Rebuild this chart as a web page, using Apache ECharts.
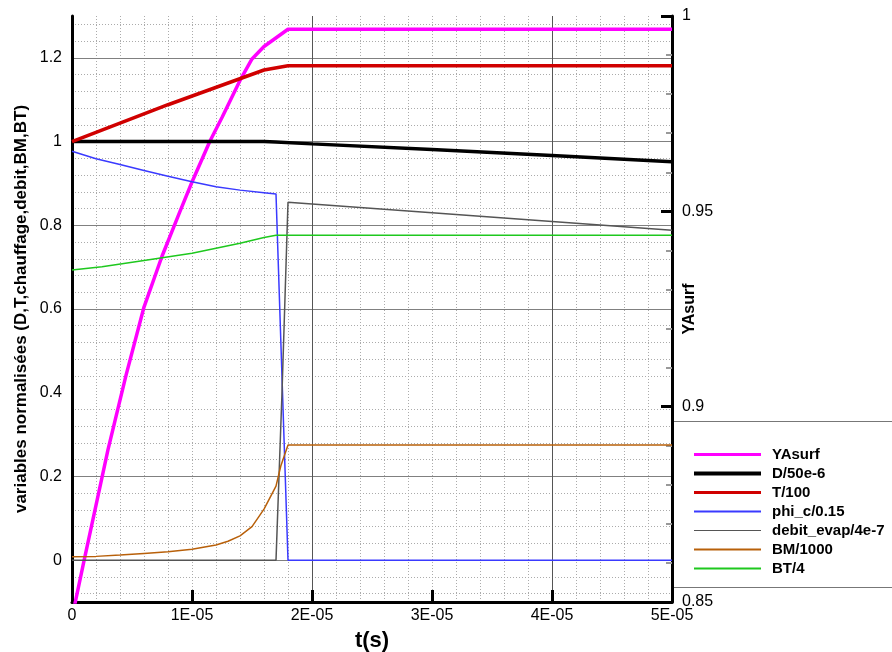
<!DOCTYPE html>
<html>
<head>
<meta charset="utf-8">
<script src="https://cdn.jsdelivr.net/npm/echarts@6/dist/echarts.min.js"></script>
<style>
html,body{margin:0;padding:0;background:#fff;}
#chart{width:892px;height:652px;}
</style>
</head>
<body>
<div id="chart"></div>
<script>
// ---- data (t in seconds) ----
const seriesNames = ['YAsurf','D/50e-6','T/100','phi_c/0.15','debit_evap/4e-7','BM/1000','BT/4'];

const tYAsurf = [0, 0.1e-5, 0.3e-5, 0.45e-5, 0.6e-5, 0.75e-5, 0.9e-5, 1.0e-5, 1.15e-5, 1.25e-5, 1.4e-5, 1.5e-5, 1.6e-5, 1.8e-5, 5e-5];
const vYAsurf = [0.846, 0.8605, 0.889, 0.908, 0.9255, 0.9385, 0.950, 0.9575, 0.968, 0.974, 0.9835, 0.989, 0.9922, 0.9966, 0.9966];

const tD = [0, 1.6e-5, 1.7e-5, 2.0e-5, 3.0e-5, 4.0e-5, 5.0e-5];
const vD = [1.0, 1.0, 0.999, 0.9945, 0.981, 0.967, 0.952];

const tT = [0, 0.8e-5, 1.6e-5, 1.8e-5, 5e-5];
const vT = [1.0, 1.088, 1.171, 1.181, 1.181];

const tPhi = [0, 0.2e-5, 0.4e-5, 0.6e-5, 0.8e-5, 1.0e-5, 1.2e-5, 1.4e-5, 1.6e-5, 1.7e-5, 1.8e-5, 5e-5];
const vPhi = [0.977, 0.959, 0.945, 0.931, 0.917, 0.904, 0.892, 0.884, 0.878, 0.875, 0, 0];

const tDebit = [0, 1.7e-5, 1.75e-5, 1.8e-5, 5e-5];
const vDebit = [0, 0, 0.40, 0.855, 0.788];

const tBM = [0, 0.2e-5, 0.4e-5, 0.6e-5, 0.8e-5, 1.0e-5, 1.2e-5, 1.3e-5, 1.4e-5, 1.5e-5, 1.6e-5, 1.7e-5, 1.74e-5, 1.8e-5, 5e-5];
const vBM = [0.008, 0.009, 0.012, 0.016, 0.020, 0.026, 0.036, 0.045, 0.058, 0.080, 0.122, 0.177, 0.225, 0.275, 0.275];

const tBT = [0, 0.25e-5, 0.6e-5, 1.0e-5, 1.2e-5, 1.4e-5, 1.6e-5, 1.7e-5, 5e-5];
const vBT = [0.693, 0.701, 0.716, 0.733, 0.745, 0.757, 0.771, 0.776, 0.776];

// ---- styling ----
const FONT = 'Liberation Sans, Arial, Helvetica, sans-serif';
const colors = ['#ff00ff', '#000000', '#d00000', '#3a3aff', '#555555', '#b8600a', '#1ec81e'];
const widths = [3.5, 3.5, 3.5, 1.5, 1.5, 1.5, 1.5];
const legendWidths = [3, 4, 3, 2, 1, 2, 2];

function zip(t, v) { return t.map((x, i) => [x, v[i]]); }
const datasets = [zip(tYAsurf, vYAsurf), zip(tD, vD), zip(tT, vT), zip(tPhi, vPhi), zip(tDebit, vDebit), zip(tBM, vBM), zip(tBT, vBT)];

// grid line colour arrays
const solidY = [0, 2, 6, 8, 10, 12]; // tenths
const leftColors = [];
for (let i = 0; i <= 14; i++) {
  const k = i - 1;
  leftColors.push(solidY.indexOf(k) >= 0 ? '#808080' : 'rgba(0,0,0,0)');
}
const dotYColors = [];
for (let i = 0; i <= 70; i++) {
  const k = -10 + 2 * i; // hundredths
  dotYColors.push((k % 4 === 0 && k % 20 !== 0) ? '#ababab' : 'rgba(0,0,0,0)');
}
const dotXColors = [];
for (let i = 0; i <= 25; i++) {
  dotXColors.push((i === 10 || i === 20) ? 'rgba(0,0,0,0)' : '#ababab');
}
const solidXColors = ['rgba(0,0,0,0)', 'rgba(0,0,0,0)', '#555555', 'rgba(0,0,0,0)', '#555555', 'rgba(0,0,0,0)'];

const chart = echarts.init(document.getElementById('chart'), null, {renderer: 'canvas'});

const option = {
  animation: false,
  backgroundColor: '#ffffff',
  textStyle: {fontFamily: FONT},
  grid: {left: 72, right: 220, top: 16, bottom: 50, containLabel: false, outerBoundsMode: 'none'},
  xAxis: [
    {
      type: 'value', position: 'bottom', min: 0, max: 5e-5, interval: 1e-5, z: 3,
      name: 't(s)', nameLocation: 'middle', nameGap: 28, nameMoveOverlap: false,
      nameTextStyle: {fontFamily: FONT, fontSize: 22, fontWeight: 'bold', color: '#000'},
      axisLine: {show: true, onZero: false, lineStyle: {color: '#000', width: 3}},
      axisTick: {show: true, inside: true, length: 12, lineStyle: {color: '#000', width: 3}},
      axisLabel: {margin: 6, fontFamily: FONT, fontSize: 16, color: '#000',
        formatter: v => v === 0 ? '0' : Math.round(v / 1e-5) + 'E-05'},
      splitLine: {show: true, lineStyle: {color: solidXColors, width: 1}}
    },
    {
      type: 'value', position: 'bottom', min: 0, max: 5e-5, interval: 2e-6, z: 1,
      axisLine: {show: false}, axisTick: {show: false}, axisLabel: {show: false},
      splitLine: {show: true, lineStyle: {color: dotXColors, width: 1, type: [1, 2]}}
    }
  ],
  yAxis: [
    {
      type: 'value', position: 'left', min: -0.1, max: 1.3, interval: 0.1, z: 3,
      name: 'variables normalisées (D,T,chauffage,debit,BM,BT)', nameLocation: 'middle', nameGap: 42, nameRotate: 90,
      nameMoveOverlap: false,
      nameTextStyle: {fontFamily: FONT, fontSize: 17, fontWeight: 'bold', color: '#000'},
      axisLine: {show: true, onZero: false, lineStyle: {color: '#000', width: 3}},
      axisTick: {show: false},
      axisLabel: {margin: 10, fontFamily: FONT, fontSize: 16, color: '#000', showMinLabel: true, showMaxLabel: true,
        formatter: v => { const k = Math.round(v * 10); return (k % 2 !== 0) ? '' : String(k / 10); }},
      splitLine: {show: true, lineStyle: {color: leftColors, width: 1}}
    },
    {
      type: 'value', position: 'right', min: 0.85, max: 1, interval: 0.05, z: 3,
      name: 'YAsurf', nameLocation: 'middle', nameGap: 10, nameRotate: 90, nameMoveOverlap: false,
      nameTextStyle: {fontFamily: FONT, fontSize: 16, fontWeight: 'bold', color: '#000'},
      axisLine: {show: true, onZero: false, lineStyle: {color: '#000', width: 3}},
      axisTick: {show: true, inside: true, length: 11, lineStyle: {color: '#000', width: 3}},
      minorTick: {show: true, splitNumber: 5, length: 6, lineStyle: {color: '#999', width: 2}},
      axisLabel: {margin: 10, fontFamily: FONT, fontSize: 16, color: '#000'},
      splitLine: {show: false}
    },
    {
      type: 'value', position: 'left', min: -0.1, max: 1.3, interval: 0.02, z: 1,
      axisLine: {show: false}, axisTick: {show: false}, axisLabel: {show: false},
      splitLine: {show: true, lineStyle: {color: dotYColors, width: 1, type: [1, 2]}}
    }
  ],
  legend: {
    orient: 'vertical', left: 692, top: 447, padding: 0,
    itemWidth: 67, itemHeight: 14, itemGap: 4,
    itemStyle: {opacity: 0},
    textStyle: {fontFamily: FONT, fontSize: 15, fontWeight: 'bold', color: '#000', lineHeight: 14, padding: [0, 0, 0, 6]},
    data: seriesNames.map((n, i) => ({name: n, lineStyle: {width: legendWidths[i], color: colors[i]}}))
  },
  graphic: [
    {type: 'line', z: 0, shape: {x1: 672, y1: 421.5, x2: 892, y2: 421.5}, style: {stroke: '#777', lineWidth: 1}},
    {type: 'line', z: 0, shape: {x1: 672, y1: 587.5, x2: 892, y2: 587.5}, style: {stroke: '#777', lineWidth: 1}}
  ],
  series: seriesNames.map((n, i) => ({
    name: n, type: 'line', xAxisIndex: 0, yAxisIndex: i === 0 ? 1 : 0,
    data: datasets[i], showSymbol: false, symbol: 'none', smooth: false, clip: true, z: 4,
    lineStyle: {color: colors[i], width: widths[i]}, itemStyle: {color: colors[i]}
  }))
};
chart.setOption(option);
</script>
</body>
</html>
